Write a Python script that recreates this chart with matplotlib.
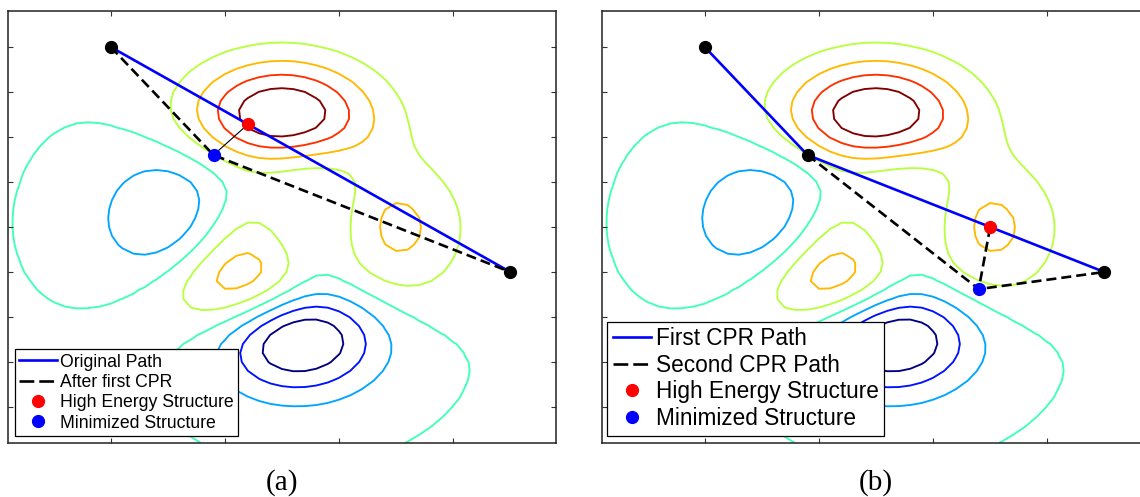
import numpy as np
import matplotlib
matplotlib.use("Agg")
import matplotlib.pyplot as plt
from matplotlib.lines import Line2D

# ---- surface: MATLAB peaks(49) on [-3, 3], plotted against grid indices ----
grid_n = 49
n_levels = 8

# ---- panel (a) data (grid-index coordinates) ----
a_orig_x = [10, 45]
a_orig_y = [45, 20]
a_cpr_x = [10, 19, 45]
a_cpr_y = [45, 33, 20]
a_ends_x = [10, 45]
a_ends_y = [45, 20]
a_high = [22.0, 36.4]
a_min = [19.0, 33.0]

# ---- panel (b) data ----
b_first_x = [10, 19, 45]
b_first_y = [45, 33, 20]
b_second_x = [19, 34, 45]
b_second_y = [33, 18.1, 20]
b_nodes_x = [10, 19, 45]
b_nodes_y = [45, 33, 20]
b_high = [35.0, 25.0]
b_min = [34.0, 18.1]

legend_a = ["Original Path", "After first CPR", "High Energy Structure", "Minimized Structure"]
legend_b = ["First CPR Path", "Second CPR Path", "High Energy Structure", "Minimized Structure"]
captions = ["(a)", "(b)"]

xticks = [10, 20, 30, 40]
yticks = [5, 10, 15, 20, 25, 30, 35, 40, 45]

# ---- build the peaks surface ----
g = np.linspace(-3, 3, grid_n)
X, Y = np.meshgrid(g, g)
Z = (3 * (1 - X) ** 2 * np.exp(-X ** 2 - (Y + 1) ** 2)
     - 10 * (X / 5 - X ** 3 - Y ** 5) * np.exp(-X ** 2 - Y ** 2)
     - 1 / 3 * np.exp(-(X + 1) ** 2 - Y ** 2))
idx = np.arange(1, grid_n + 1)
levels = np.linspace(Z.min(), Z.max(), n_levels + 2)[1:-1]

W, H = 1140, 497
fig = plt.figure(figsize=(W / 100, H / 100), dpi=100)
ax_w, ax_h = 548 / W, 432 / H
ax_b0 = (H - 443) / H
axA = fig.add_axes([8 / W, ax_b0, ax_w, ax_h])
axB = fig.add_axes([602 / W, ax_b0, ax_w, ax_h])

LW_BLUE = 1.9
LW_DASH = 1.9
DASH = (3.8, 1.9)
MS = 8.5

for ax in (axA, axB):
    ax.contour(idx, idx, Z, levels=levels, cmap="jet", linewidths=1.35, zorder=1)
    ax.set_xlim(1, grid_n)
    ax.set_ylim(1, grid_n)
    ax.set_xticks(xticks)
    ax.set_yticks(yticks)
    ax.set_xticklabels([])
    ax.set_yticklabels([])
    ax.tick_params(direction="in", length=3.6, width=0.8, color="#333333",
                   top=True, right=True, bottom=True, left=True)
    for s in ax.spines.values():
        s.set_linewidth(1.1)
        s.set_color("#222222")

# panel (a)
axA.plot(a_orig_x, a_orig_y, color="blue", lw=LW_BLUE, zorder=2)
axA.plot(a_cpr_x, a_cpr_y, color="black", lw=LW_DASH, ls=(0, DASH), zorder=2)
axA.plot([a_min[0], a_high[0]], [a_min[1], a_high[1]], color="black", lw=0.8, zorder=2)
axA.plot(a_ends_x, a_ends_y, ls="none", marker="o", color="black", ms=MS, zorder=3)
axA.plot([a_high[0]], [a_high[1]], ls="none", marker="o", color="red", ms=MS, zorder=3)
axA.plot([a_min[0]], [a_min[1]], ls="none", marker="o", color="blue", ms=MS, zorder=3)

# panel (b)
axB.plot(b_first_x, b_first_y, color="blue", lw=LW_BLUE, zorder=2)
axB.plot(b_second_x, b_second_y, color="black", lw=LW_DASH, ls=(0, DASH), zorder=2)
axB.plot([b_high[0], b_min[0]], [b_high[1], b_min[1]], color="black", lw=LW_DASH,
         ls=(0, DASH), zorder=2)
axB.plot(b_nodes_x, b_nodes_y, ls="none", marker="o", color="black", ms=MS, zorder=3)
axB.plot([b_high[0]], [b_high[1]], ls="none", marker="o", color="red", ms=MS, zorder=3)
axB.plot([b_min[0]], [b_min[1]], ls="none", marker="o", color="blue", ms=MS, zorder=3)


def handles():
    return [
        Line2D([], [], color="blue", lw=LW_BLUE),
        Line2D([], [], color="black", lw=LW_DASH, ls=(0, (5.6, 1.9))),
        Line2D([], [], ls="none", marker="o", color="red", ms=MS),
        Line2D([], [], ls="none", marker="o", color="blue", ms=MS),
    ]


def add_legend(ax, labels, fs, hl, htp, ls, anchor):
    leg = ax.legend(handles(), labels, loc="lower left", bbox_to_anchor=anchor,
                    borderaxespad=0, prop={"family": "Liberation Sans", "size": fs},
                    handlelength=hl, handletextpad=htp, borderpad=0.25,
                    labelspacing=ls, fancybox=False, framealpha=1,
                    edgecolor="black")
    leg.get_frame().set_linewidth(0.9)
    leg.set_zorder(5)
    return leg


add_legend(axA, legend_a, 12.7, 2.14, 0.17, 0.19, (6.7 / 548, 7 / 432))
add_legend(axB, legend_b, 16.3, 1.67, 0.22, 0.16, (5.3 / 548, 7.3 / 432))

fig.text(282 / W, 7 / H, captions[0], ha="center", va="baseline",
         family="Liberation Serif", fontsize=21)
fig.text(876 / W, 7 / H, captions[1], ha="center", va="baseline",
         family="Liberation Serif", fontsize=21)

fig.savefig("out.png", dpi=100)
